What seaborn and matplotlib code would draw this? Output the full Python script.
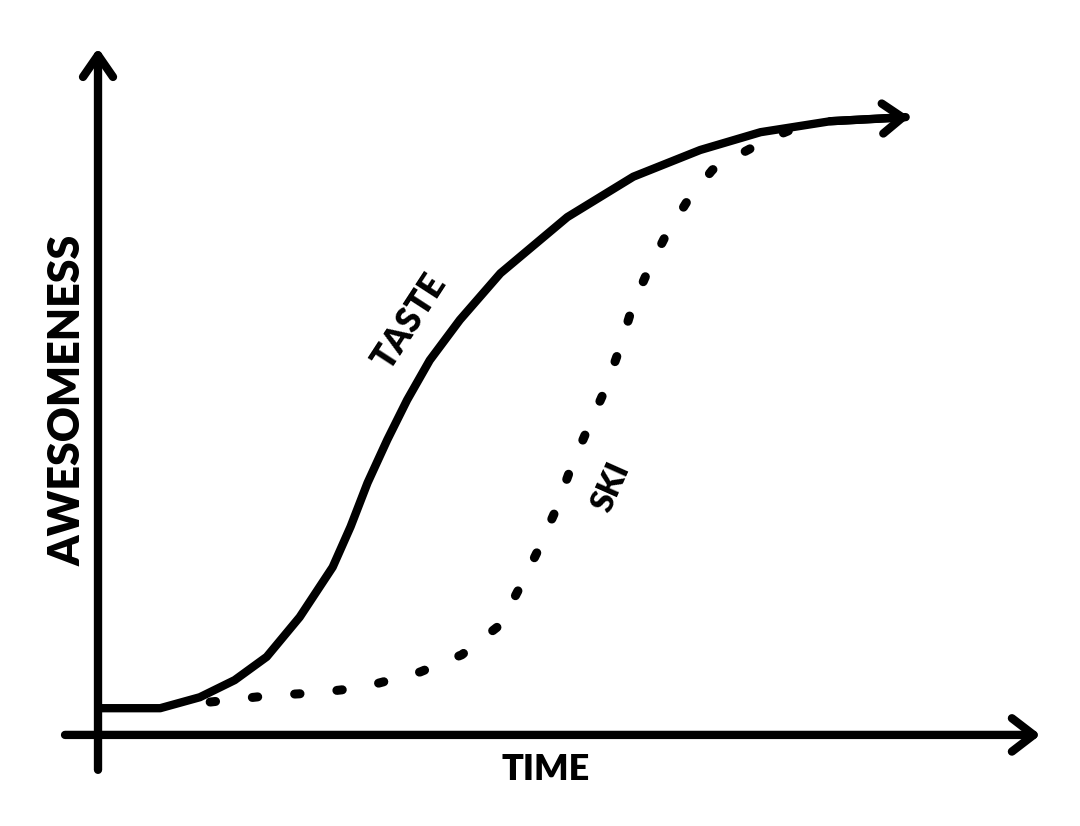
import matplotlib
matplotlib.use("Agg")
import matplotlib.pyplot as plt
import seaborn as sns
import pandas as pd

# ---- data (time vs awesomeness, arbitrary units) ----
taste_time = [0.02, 0.66, 1.08, 1.45, 1.79, 2.14, 2.49, 2.68, 2.86, 3.07, 3.28, 3.52,
              3.84, 4.27, 4.98, 5.68, 6.39, 7.03, 7.77, 8.57]
taste_awe = [0.39, 0.39, 0.55, 0.80, 1.14, 1.72, 2.45, 3.04, 3.68, 4.31, 4.89, 5.47,
             6.06, 6.74, 7.56, 8.15, 8.54, 8.80, 8.96, 9.02]

ski_time = [1.19, 1.86, 2.27, 2.80, 3.42, 3.86, 4.27, 4.50, 4.66, 4.85, 5.01,
            5.18, 5.38, 5.54, 5.67, 5.83, 6.02, 6.26, 6.52, 6.84, 7.10, 7.43]
ski_awe = [0.48, 0.58, 0.61, 0.69, 0.92, 1.17, 1.61, 2.22, 2.67, 3.26, 3.87,
           4.42, 5.04, 5.66, 6.25, 6.76, 7.28, 7.81, 8.25, 8.50, 8.69, 8.88]

x_label = "TIME"
y_label = "AWESOMENESS"
taste_label = "TASTE"
ski_label = "SKI"

sns.set_theme(style="white")
plt.rcParams["font.family"] = ["Lato", "DejaVu Sans"]
plt.rcParams["text.color"] = "black"

fig = plt.figure(figsize=(10.8, 8.26), dpi=100)
ax = fig.add_axes([0, 0, 1, 1])
ax.set_xlim(-1.04, 10.42)
ax.set_ylim(-1.33, 10.73)
ax.axis("off")

taste_df = pd.DataFrame({"time": taste_time, "awe": taste_awe})
ski_df = pd.DataFrame({"time": ski_time, "awe": ski_awe})

sns.lineplot(data=taste_df, x="time", y="awe", ax=ax, color="black", lw=6.0,
             solid_capstyle="round", solid_joinstyle="round", sort=False)
sns.lineplot(data=ski_df, x="time", y="awe", ax=ax, color="black", lw=6.5,
             linestyle=(0, (0.6, 4.1)), dash_capstyle="round", sort=False)

ax.annotate("", xy=(0, 10.03), xytext=(0, -0.51),
            arrowprops=dict(arrowstyle="->,head_length=1.3,head_width=0.9",
                            color="black", lw=6, shrinkA=0, shrinkB=0,
                            capstyle="round", joinstyle="round"))
ax.annotate("", xy=(10.0, 0), xytext=(-0.35, 0),
            arrowprops=dict(arrowstyle="->,head_length=1.3,head_width=1.0",
                            color="black", lw=6, shrinkA=0, shrinkB=0,
                            capstyle="round", joinstyle="round"))
ax.annotate("", xy=(taste_time[-1] + 0.04, taste_awe[-1]),
            xytext=(taste_time[-2], taste_awe[-2]),
            arrowprops=dict(arrowstyle="->,head_length=1.2,head_width=0.9",
                            color="black", lw=6, shrinkA=0, shrinkB=0,
                            capstyle="round", joinstyle="round"))

ax.text(-0.32, 4.88, y_label, rotation=90, ha="center", va="center",
        fontsize=31, fontweight="heavy", color="black")
ax.text(4.75, -0.51, x_label, ha="center", va="center",
        fontsize=26, fontweight="heavy", color="black")
ax.text(3.31, 6.04, taste_label, rotation=57, ha="center", va="center",
        fontsize=25, fontweight="heavy", color="black")
ax.text(5.44, 3.62, ski_label, rotation=66, ha="center", va="center",
        fontsize=23, fontweight="heavy", color="black")

fig.savefig("out.png", dpi=100, facecolor="white")
